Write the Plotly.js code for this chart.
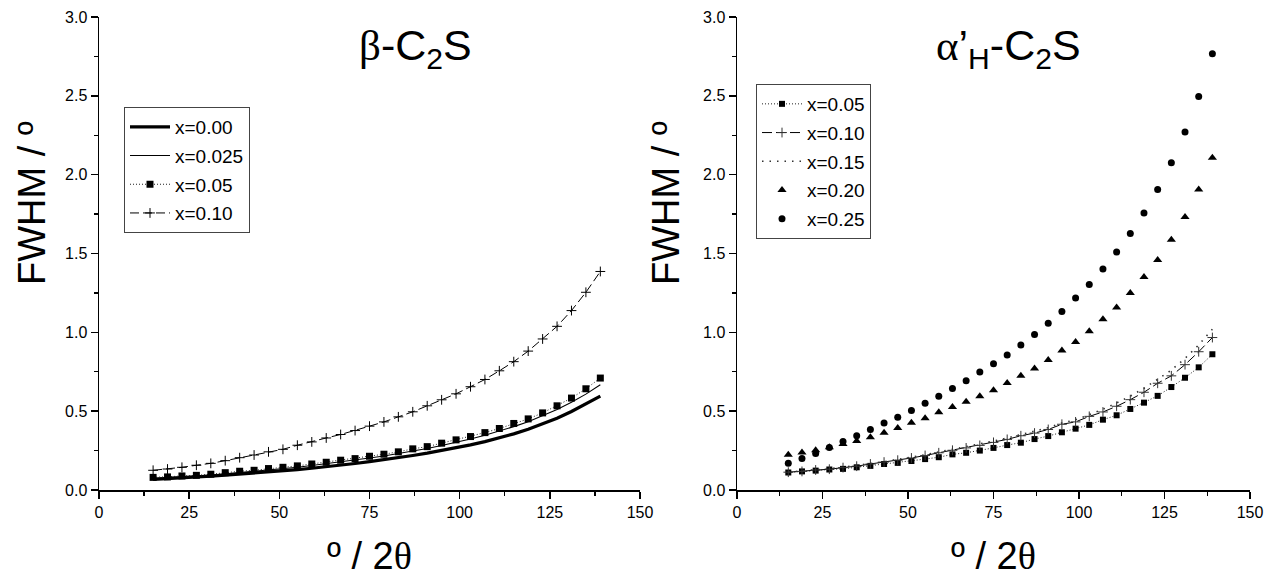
<!DOCTYPE html>
<html>
<head>
<meta charset="utf-8">
<script src="https://cdn.plot.ly/plotly-3.0.1.min.js"></script>
<style>html,body{margin:0;padding:0;background:#fff;}#chart{width:1287px;height:583px;}</style>
</head>
<body>
<div id="chart"></div>
<script>
// 2θ positions (degrees)
const twoTheta = [15,19,23,27,31,35,39,43,47,51,55,59,63,67,71,75,79,83,87,91,95,99,103,107,111,115,119,123,127,131,135,139];

// beta-C2S panel
const betaX000 = [0.068,0.072,0.077,0.082,0.088,0.094,0.100,0.107,0.114,0.121,0.129,0.138,0.147,0.157,0.168,0.180,0.192,0.205,0.219,0.234,0.250,0.267,0.286,0.307,0.330,0.356,0.385,0.418,0.455,0.498,0.545,0.595];
const betaX025 = [0.075,0.079,0.084,0.089,0.095,0.102,0.110,0.118,0.127,0.135,0.144,0.155,0.166,0.178,0.190,0.203,0.216,0.231,0.247,0.263,0.282,0.302,0.323,0.347,0.373,0.402,0.433,0.470,0.511,0.556,0.608,0.668];
const betaX05 = [0.080,0.083,0.089,0.093,0.100,0.110,0.119,0.125,0.136,0.144,0.153,0.165,0.176,0.189,0.199,0.214,0.227,0.242,0.261,0.275,0.297,0.318,0.339,0.364,0.390,0.422,0.451,0.489,0.534,0.583,0.642,0.710];
const betaX10 = [0.125,0.133,0.144,0.157,0.169,0.186,0.205,0.222,0.242,0.258,0.284,0.305,0.330,0.352,0.377,0.405,0.432,0.464,0.496,0.534,0.572,0.610,0.655,0.701,0.756,0.814,0.881,0.958,1.038,1.138,1.254,1.386];

// alpha'H-C2S panel
const alphaX05 = [0.111,0.118,0.123,0.130,0.134,0.144,0.153,0.165,0.172,0.184,0.196,0.208,0.226,0.236,0.250,0.267,0.285,0.300,0.323,0.342,0.366,0.389,0.413,0.446,0.474,0.514,0.554,0.597,0.653,0.712,0.778,0.861];
const alphaX10 = [0.113,0.118,0.127,0.132,0.142,0.151,0.165,0.177,0.189,0.203,0.219,0.236,0.252,0.267,0.283,0.302,0.321,0.344,0.361,0.384,0.417,0.432,0.467,0.495,0.531,0.573,0.620,0.677,0.724,0.795,0.877,0.967];
const alphaX15 = [0.114,0.120,0.128,0.135,0.145,0.155,0.168,0.180,0.193,0.208,0.224,0.241,0.257,0.273,0.290,0.310,0.330,0.352,0.370,0.395,0.425,0.445,0.478,0.512,0.552,0.595,0.645,0.700,0.760,0.835,0.920,1.020];
const alphaX20 = [0.224,0.238,0.252,0.271,0.292,0.311,0.335,0.363,0.394,0.427,0.455,0.493,0.526,0.559,0.594,0.632,0.679,0.724,0.771,0.825,0.884,0.939,1.007,1.083,1.158,1.250,1.351,1.458,1.587,1.731,1.906,2.108];
const alphaX25 = [0.170,0.200,0.231,0.269,0.307,0.344,0.384,0.425,0.462,0.505,0.550,0.594,0.644,0.693,0.748,0.800,0.856,0.920,0.986,1.057,1.132,1.217,1.304,1.401,1.509,1.627,1.757,1.906,2.075,2.271,2.495,2.767];

const betaLabels = ['x=0.00','x=0.025','x=0.05','x=0.10'];
const alphaLabels = ['x=0.05','x=0.10','x=0.15','x=0.20','x=0.25'];

const FONT = 'Liberation Sans, Arial, sans-serif';
const GREEK = 'font-family:Liberation Serif, Times New Roman, serif';
const K = '#000';

const traces = [
  {x: twoTheta, y: betaX000, name: betaLabels[0], mode:'lines', line:{color:K,width:3.2}, xaxis:'x', yaxis:'y', legend:'legend', legendgroup:'b0'},
  {x: twoTheta, y: betaX025, name: betaLabels[1], mode:'lines', line:{color:K,width:1.1}, xaxis:'x', yaxis:'y', legend:'legend', legendgroup:'b1'},
  {x: twoTheta, y: betaX05, name: betaLabels[2], mode:'lines+markers', line:{color:'#222',width:1,dash:'1px,2px'}, marker:{symbol:'square',size:7,color:K}, xaxis:'x', yaxis:'y', legend:'legend', legendgroup:'b2'},
  {x: twoTheta, y: betaX10, name: betaLabels[3], mode:'lines+markers', line:{color:K,width:1,dash:'9px,4px'}, marker:{symbol:'cross-thin',size:7,color:K,line:{color:K,width:1}}, xaxis:'x', yaxis:'y', legend:'legend', legendgroup:'b3'},

  {x: twoTheta, y: alphaX05, name: alphaLabels[0], mode:'lines+markers', line:{color:'#222',width:1,dash:'1px,2px'}, marker:{symbol:'square',size:6,color:K}, xaxis:'x2', yaxis:'y2', legend:'legend2', legendgroup:'a0'},
  {x: twoTheta, y: alphaX10, name: alphaLabels[1], mode:'lines+markers', line:{color:K,width:1,dash:'10px,4px'}, marker:{symbol:'cross-thin',size:7,color:K,line:{color:'#333',width:1}}, xaxis:'x2', yaxis:'y2', legend:'legend2', legendgroup:'a1'},
  {x: twoTheta, y: alphaX15, name: alphaLabels[2], mode:'lines', line:{color:'#333',width:1.6,dash:'1.5px,6px'}, xaxis:'x2', yaxis:'y2', legend:'legend2', legendgroup:'a2'},
  {x: twoTheta, y: alphaX20, name: alphaLabels[3], mode:'markers', marker:{symbol:'triangle-up',size:8,color:K}, xaxis:'x2', yaxis:'y2', legend:'legend2', legendgroup:'a3'},
  {x: twoTheta, y: alphaX25, name: alphaLabels[4], mode:'markers', marker:{symbol:'circle',size:7,color:K}, xaxis:'x2', yaxis:'y2', legend:'legend2', legendgroup:'a4'}
];

const xTitle = 'º / 2<span style="'+GREEK+'">θ</span>';
function xax(domain, anchor){
  return {domain: domain, anchor: anchor, range:[0,150], showgrid:false, zeroline:false,
    showline:true, linecolor:K, linewidth:1.5, ticks:'outside', ticklen:7, tickwidth:1.5, tickcolor:K,
    tick0:0, dtick:25, tickfont:{family:FONT,size:16,color:K},
    title:{text:xTitle, font:{family:FONT,size:38,color:K}, standoff:22},
    minor:{ticks:'outside', dtick:12.5, ticklen:4, tickwidth:1.2, tickcolor:K, showgrid:false}};
}
function yax(domain, anchor){
  return {domain: domain, anchor: anchor, range:[0,3], showgrid:false, zeroline:false,
    showline:true, linecolor:K, linewidth:1.5, ticks:'outside', ticklen:7, tickwidth:1.5, tickcolor:K,
    tick0:0, dtick:0.5, tickformat:'.1f', tickfont:{family:FONT,size:16,color:K},
    minor:{ticks:'outside', dtick:0.25, ticklen:4, tickwidth:1.2, tickcolor:K, showgrid:false}};
}

const yDom = [(583-490)/583, (583-17)/583];
const legendBase = {xanchor:'left', yanchor:'top', bgcolor:'#fff', bordercolor:'#444', borderwidth:1,
  font:{family:FONT,size:19,color:K}, tracegroupgap:1, itemwidth:40, itemclick:false};
const layout = {
  width:1287, height:583,
  margin:{l:0,r:0,t:0,b:0},
  paper_bgcolor:'#fff', plot_bgcolor:'#fff',
  font:{family:FONT, color:K},
  xaxis: xax([99/1287, 640/1287], 'y'),
  yaxis: yax(yDom, 'x'),
  xaxis2: xax([737/1287, 1250/1287], 'y2'),
  yaxis2: yax(yDom, 'x2'),
  legend: Object.assign({x:124/1287, y:(583-107)/583}, legendBase),
  legend2: Object.assign({x:756/1287, y:(583-84)/583}, legendBase),
  annotations:[
    {text:'<span style="'+GREEK+'">β</span>-C<sub>2</sub>S', xref:'paper', yref:'paper', x:415/1287, y:(583-48)/583, xanchor:'center', yanchor:'middle', showarrow:false, font:{family:FONT,size:43,color:K}},
    {text:'<span style="'+GREEK+'">α</span>’<sub>H</sub>-C<sub>2</sub>S', xref:'paper', yref:'paper', x:1009/1287, y:(583-48)/583, xanchor:'center', yanchor:'middle', showarrow:false, font:{family:FONT,size:43,color:K}},
    {text:'FWHM / º', xref:'paper', yref:'paper', x:32/1287, y:(583-203)/583, xanchor:'center', yanchor:'middle', textangle:-90, showarrow:false, font:{family:FONT,size:38,color:K}},
    {text:'FWHM / º', xref:'paper', yref:'paper', x:666/1287, y:(583-203)/583, xanchor:'center', yanchor:'middle', textangle:-90, showarrow:false, font:{family:FONT,size:38,color:K}}
  ],
  showlegend:true
};

Plotly.newPlot('chart', traces, layout, {displayModeBar:false, staticPlot:true});
</script>
</body>
</html>
